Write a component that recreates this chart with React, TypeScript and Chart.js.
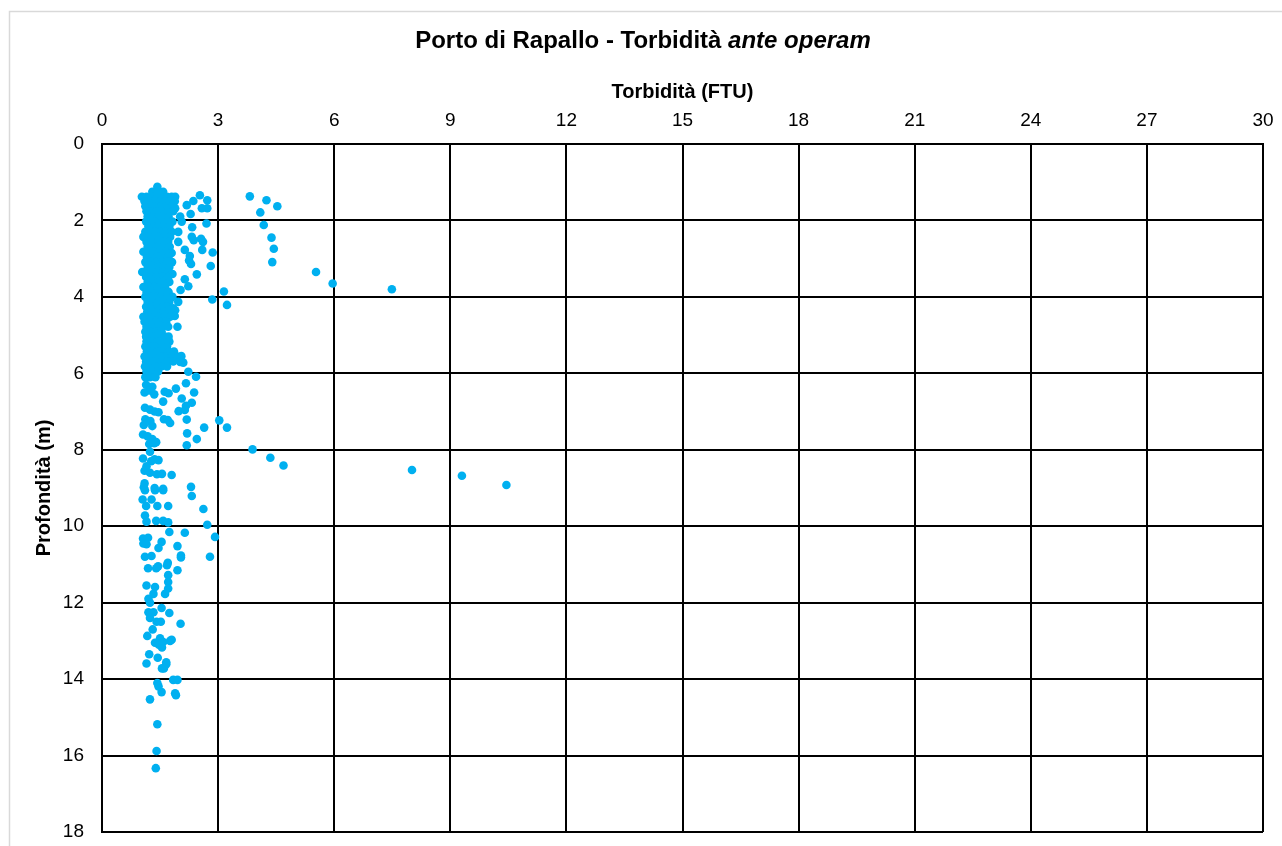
import React, { useEffect, useRef } from "react";
import { Chart, registerables } from "chart.js";

Chart.register(...registerables);

type P = [number, number]; // [torbidità FTU, profondità m]

// Fascia 1–2 m
const fascia_1_2m: P[] = [
  [1.43, 1.12],
  [1.30, 1.25], [1.45, 1.25], [1.58, 1.25],
  [1.03, 1.38], [1.15, 1.38], [1.28, 1.38], [1.42, 1.38], [1.55, 1.38], [1.68, 1.38], [1.80, 1.38], [1.89, 1.38],
  [1.10, 1.50], [1.22, 1.50], [1.36, 1.50], [1.50, 1.50], [1.63, 1.50], [1.77, 1.50], [1.88, 1.50],
  [1.12, 1.63], [1.25, 1.63], [1.38, 1.63], [1.52, 1.63], [1.66, 1.63], [1.80, 1.63],
  [1.15, 1.76], [1.28, 1.76], [1.41, 1.76], [1.55, 1.76], [1.70, 1.76], [1.84, 1.76],
  [1.18, 1.90], [1.31, 1.90], [1.45, 1.90], [1.58, 1.90], [1.72, 1.90],
  [2.19, 1.60], [2.36, 1.49], [2.53, 1.34], [2.72, 1.47], [2.58, 1.68], [2.72, 1.68],
  [2.29, 1.83], [2.02, 1.90], [1.89, 1.68],
  [3.82, 1.37], [4.25, 1.47], [4.53, 1.63], [4.09, 1.79],
];

// Fascia 2–4 m
const fascia_2_4m: P[] = [
  [1.14, 2.03], [1.27, 2.03], [1.40, 2.03], [1.54, 2.03], [1.68, 2.03], [1.82, 2.03],
  [1.20, 2.16], [1.33, 2.16], [1.47, 2.16], [1.60, 2.16], [1.74, 2.16],
  [1.12, 2.30], [1.25, 2.30], [1.39, 2.30], [1.52, 2.30], [1.66, 2.30], [1.80, 2.30],
  [1.07, 2.43], [1.20, 2.43], [1.34, 2.43], [1.48, 2.43], [1.62, 2.43], [1.76, 2.43],
  [1.15, 2.56], [1.29, 2.56], [1.43, 2.56], [1.57, 2.56], [1.71, 2.56],
  [1.18, 2.69], [1.31, 2.69], [1.45, 2.69], [1.60, 2.69], [1.75, 2.69],
  [1.07, 2.82], [1.20, 2.82], [1.35, 2.82], [1.50, 2.82], [1.64, 2.82], [1.80, 2.85],
  [1.16, 2.95], [1.30, 2.95], [1.44, 2.95], [1.58, 2.95], [1.72, 2.95],
  [1.12, 3.09], [1.26, 3.09], [1.40, 3.09], [1.55, 3.09], [1.70, 3.09], [1.81, 3.09],
  [1.18, 3.22], [1.32, 3.22], [1.46, 3.22], [1.60, 3.22], [1.74, 3.22],
  [1.04, 3.35], [1.17, 3.35], [1.31, 3.35], [1.45, 3.35], [1.59, 3.35], [1.73, 3.35], [1.82, 3.40],
  [1.14, 3.48], [1.28, 3.48], [1.42, 3.48], [1.57, 3.48], [1.71, 3.48],
  [1.18, 3.61], [1.32, 3.61], [1.46, 3.61], [1.60, 3.61], [1.74, 3.61],
  [1.07, 3.74], [1.21, 3.74], [1.35, 3.74], [1.49, 3.74], [1.63, 3.74],
  [1.15, 3.87], [1.29, 3.87], [1.43, 3.87], [1.57, 3.87], [1.72, 3.87],
  [2.06, 2.03], [2.70, 2.08], [2.33, 2.18], [1.97, 2.30], [2.32, 2.43], [2.37, 2.52],
  [2.56, 2.48], [2.61, 2.56], [1.97, 2.56], [2.14, 2.77], [2.59, 2.77], [2.86, 2.84],
  [2.27, 2.93], [2.25, 3.05], [2.30, 3.14], [2.81, 3.19], [2.45, 3.41], [2.14, 3.54],
  [2.23, 3.72], [2.03, 3.82],
  [4.18, 2.12], [4.38, 2.45], [4.44, 2.74], [4.40, 3.09], [5.53, 3.35], [5.96, 3.65],
  [7.49, 3.80], [3.15, 3.86],
];

// Fascia 4–6 m
const fascia_4_6m: P[] = [
  [1.12, 4.00], [1.26, 4.00], [1.40, 4.00], [1.54, 4.00], [1.68, 4.00], [1.82, 4.00],
  [1.18, 4.13], [1.32, 4.13], [1.46, 4.13], [1.60, 4.13], [1.74, 4.13],
  [1.14, 4.26], [1.28, 4.26], [1.42, 4.26], [1.56, 4.26], [1.70, 4.26], [1.84, 4.30],
  [1.17, 4.39], [1.31, 4.39], [1.45, 4.39], [1.59, 4.39], [1.73, 4.39],
  [1.07, 4.52], [1.20, 4.52], [1.34, 4.52], [1.48, 4.52], [1.62, 4.52], [1.76, 4.52],
  [1.10, 4.65], [1.24, 4.65], [1.38, 4.65], [1.52, 4.65], [1.66, 4.65],
  [1.15, 4.78], [1.29, 4.78], [1.43, 4.78], [1.57, 4.78], [1.71, 4.78],
  [1.12, 4.91], [1.26, 4.91], [1.40, 4.91], [1.54, 4.91],
  [1.14, 5.04], [1.28, 5.04], [1.42, 5.04], [1.62, 5.04], [1.72, 5.04],
  [1.15, 5.17], [1.30, 5.17], [1.44, 5.17], [1.58, 5.17], [1.74, 5.17],
  [1.12, 5.30], [1.26, 5.30], [1.40, 5.30], [1.54, 5.30], [1.68, 5.30],
  [1.16, 5.43], [1.30, 5.43], [1.44, 5.43], [1.58, 5.43], [1.72, 5.43], [1.86, 5.43],
  [1.10, 5.56], [1.24, 5.56], [1.38, 5.56], [1.52, 5.56], [1.66, 5.56], [1.80, 5.56], [1.95, 5.56], [2.05, 5.55],
  [1.14, 5.69], [1.28, 5.69], [1.42, 5.69], [1.56, 5.69], [1.70, 5.69], [1.84, 5.69], [2.02, 5.70],
  [1.11, 5.82], [1.25, 5.82], [1.39, 5.82], [1.53, 5.82], [1.68, 5.82],
  [1.15, 5.95], [1.30, 5.95], [1.45, 5.95],
  [1.12, 6.10], [1.24, 6.10], [1.38, 6.10],
  [1.97, 4.13], [1.89, 4.35], [1.88, 4.50], [1.95, 4.78], [2.85, 4.07], [3.23, 4.21],
  [2.10, 5.72], [2.23, 5.96], [2.43, 6.09],
];

// Fascia 6–9 m
const fascia_6_9m: P[] = [
  [1.14, 6.30], [1.30, 6.35], [1.10, 6.50], [1.22, 6.45], [1.35, 6.55], [1.62, 6.48], [1.72, 6.52],
  [1.58, 6.74], [1.11, 6.90], [1.24, 6.95], [1.36, 7.00], [1.46, 7.02], [1.60, 7.20], [1.70, 7.22],
  [1.76, 7.30], [1.12, 7.20], [1.08, 7.35], [1.25, 7.25], [1.30, 7.38], [1.06, 7.60], [1.18, 7.65],
  [1.30, 7.72], [1.40, 7.80], [1.22, 7.85], [1.35, 7.83], [1.24, 8.05], [1.06, 8.23], [1.36, 8.25],
  [1.46, 8.27], [1.27, 8.30], [1.15, 8.43], [1.10, 8.55], [1.24, 8.60], [1.42, 8.64], [1.55, 8.63],
  [1.80, 8.66], [1.10, 8.88], [1.08, 8.98], [1.36, 9.00], [1.58, 9.02],
  [2.17, 6.26], [2.38, 6.50], [1.91, 6.40], [2.06, 6.66], [2.17, 6.85], [1.98, 6.99], [2.14, 6.96],
  [2.32, 6.77], [2.19, 7.21], [2.20, 7.57], [2.45, 7.72], [2.19, 7.88], [3.03, 7.23], [2.64, 7.42],
  [3.23, 7.42], [3.89, 7.99], [4.35, 8.21], [4.69, 8.41], [8.01, 8.53], [9.30, 8.68], [10.45, 8.92],
  [2.30, 8.97], [2.32, 9.21],
];

// Fascia 9–13 m
const fascia_9_13m: P[] = [
  [1.11, 9.06], [1.37, 9.06], [1.58, 9.06], [1.05, 9.30], [1.28, 9.30], [1.14, 9.47], [1.43, 9.47],
  [1.71, 9.47], [1.11, 9.72], [1.15, 9.88], [1.40, 9.86], [1.58, 9.86], [1.71, 9.90], [1.74, 10.15],
  [2.14, 10.17], [2.92, 10.28], [2.62, 9.55], [2.72, 9.96], [1.06, 10.32], [1.19, 10.30], [1.07, 10.45],
  [1.15, 10.47], [1.54, 10.41], [1.46, 10.57], [1.95, 10.52], [2.04, 10.77], [2.04, 10.82], [2.79, 10.80],
  [1.11, 10.80], [1.28, 10.78], [1.70, 10.96], [1.68, 11.02], [1.19, 11.10], [1.40, 11.10], [1.45, 11.05],
  [1.95, 11.15], [1.71, 11.28], [1.71, 11.46], [1.15, 11.55], [1.37, 11.59], [1.71, 11.63], [1.33, 11.77],
  [1.63, 11.77], [1.20, 11.90], [1.24, 12.00], [1.20, 12.25], [1.33, 12.25], [1.24, 12.40], [1.54, 12.14],
  [1.74, 12.27], [1.41, 12.50], [1.52, 12.50], [2.03, 12.55], [1.31, 12.70], [1.17, 12.87], [1.50, 12.93],
  [1.58, 13.03], [1.80, 12.97],
];

// Fascia 13–17 m
const fascia_13_17m: P[] = [
  [1.37, 13.05], [1.47, 13.10], [1.55, 13.17], [1.76, 13.00], [1.22, 13.35], [1.44, 13.44], [1.66, 13.56],
  [1.66, 13.61], [1.15, 13.59], [1.55, 13.72], [1.60, 13.72], [1.84, 14.02], [1.95, 14.02], [1.43, 14.10],
  [1.46, 14.19], [1.54, 14.34], [1.89, 14.37], [1.91, 14.42], [1.24, 14.53], [1.43, 15.18], [1.41, 15.88],
  [1.39, 16.33],
];

const tickTorbidita = [0, 3, 6, 9, 12, 15, 18, 21, 24, 27, 30];
const tickProfondita = [0, 2, 4, 6, 8, 10, 12, 14, 16, 18];

const titoloNormale = "Porto di Rapallo - Torbidità ";
const titoloCorsivo = "ante operam";
const titoloAsseX = "Torbidità (FTU)";
const titoloAsseY = "Profondità (m)";

const FONT = "'Liberation Sans', Arial, Helvetica, sans-serif";

const cornicePlugin = {
  id: "cornice",
  beforeDraw(chart: any) {
    const ctx = chart.ctx;
    ctx.save();
    ctx.fillStyle = "#ffffff";
    ctx.fillRect(0, 0, chart.width, chart.height);
    ctx.strokeStyle = "#d9d9d9";
    ctx.lineWidth = 1.5;
    ctx.strokeRect(9.5, 11.5, 1400, 1000);
    ctx.restore();
  },
  afterDraw(chart: any) {
    const ctx = chart.ctx;
    ctx.save();
    const fN = `bold 24px ${FONT}`;
    const fI = `italic bold 24px ${FONT}`;
    ctx.font = fN;
    const w1 = ctx.measureText(titoloNormale).width;
    ctx.font = fI;
    const w2 = ctx.measureText(titoloCorsivo).width;
    const x0 = 643 - (w1 + w2) / 2;
    ctx.fillStyle = "#000";
    ctx.textBaseline = "middle";
    ctx.textAlign = "left";
    ctx.font = fN;
    ctx.fillText(titoloNormale, x0, 41);
    ctx.font = fI;
    ctx.fillText(titoloCorsivo, x0 + w1, 41);
    ctx.restore();
  },
};

const azzeraPadding = (s: any) => {
  s.paddingLeft = 0;
  s.paddingRight = 0;
  s.paddingTop = 0;
  s.paddingBottom = 0;
};

export default function App() {
  const ref = useRef<HTMLCanvasElement | null>(null);

  useEffect(() => {
    if (!ref.current) return;
    const punti = [
      ...fascia_1_2m,
      ...fascia_2_4m,
      ...fascia_4_6m,
      ...fascia_6_9m,
      ...fascia_9_13m,
      ...fascia_13_17m,
    ].map(([x, y]) => ({ x, y }));

    const chart = new Chart(ref.current, {
      type: "scatter",
      data: {
        datasets: [
          {
            label: "Torbidità",
            data: punti,
            backgroundColor: "#00B0F0",
            borderColor: "#00B0F0",
            borderWidth: 0,
            pointRadius: 4.3,
            pointHoverRadius: 4.3,
          },
        ],
      },
      plugins: [cornicePlugin],
      options: {
        responsive: false,
        animation: false,
        events: [],
        layout: { padding: { left: 0, top: 0, right: 19, bottom: 14 } },
        plugins: {
          legend: { display: false },
          tooltip: { enabled: false },
          title: { display: false },
        },
        scales: {
          x: {
            type: "linear",
            position: "top",
            min: 0,
            max: 30,
            afterBuildTicks: (s: any) => {
              s.ticks = tickTorbidita.map((v) => ({ value: v }));
            },
            afterFit: (s: any) => {
              s.height = 144;
              azzeraPadding(s);
            },
            ticks: {
              color: "#000",
              padding: 12,
              maxRotation: 0,
              autoSkip: false,
              font: { family: FONT, size: 19 },
            },
            grid: { color: "#000", lineWidth: 2, drawTicks: false },
            border: { color: "#000", width: 2 },
            title: {
              display: true,
              text: titoloAsseX,
              color: "#000",
              font: { family: FONT, size: 20, weight: "bold" },
              padding: { top: 80, bottom: 0 },
            },
          },
          y: {
            type: "linear",
            reverse: true,
            min: 0,
            max: 18,
            afterBuildTicks: (s: any) => {
              s.ticks = tickProfondita.map((v) => ({ value: v }));
            },
            afterFit: (s: any) => {
              s.width = 102;
              azzeraPadding(s);
            },
            ticks: {
              color: "#000",
              padding: 18,
              autoSkip: false,
              font: { family: FONT, size: 19 },
            },
            grid: { color: "#000", lineWidth: 2, drawTicks: false },
            border: { color: "#000", width: 2 },
            title: {
              display: true,
              text: titoloAsseY,
              color: "#000",
              font: { family: FONT, size: 20, weight: "bold" },
              padding: { top: 32, bottom: 0 },
            },
          },
        },
      },
    } as any);

    return () => chart.destroy();
  }, []);

  return (
    <div style={{ position: "fixed", left: 0, top: 0, width: 1282, height: 846, background: "#fff" }}>
      <canvas ref={ref} width={1282} height={846} style={{ display: "block" }} />
    </div>
  );
}
